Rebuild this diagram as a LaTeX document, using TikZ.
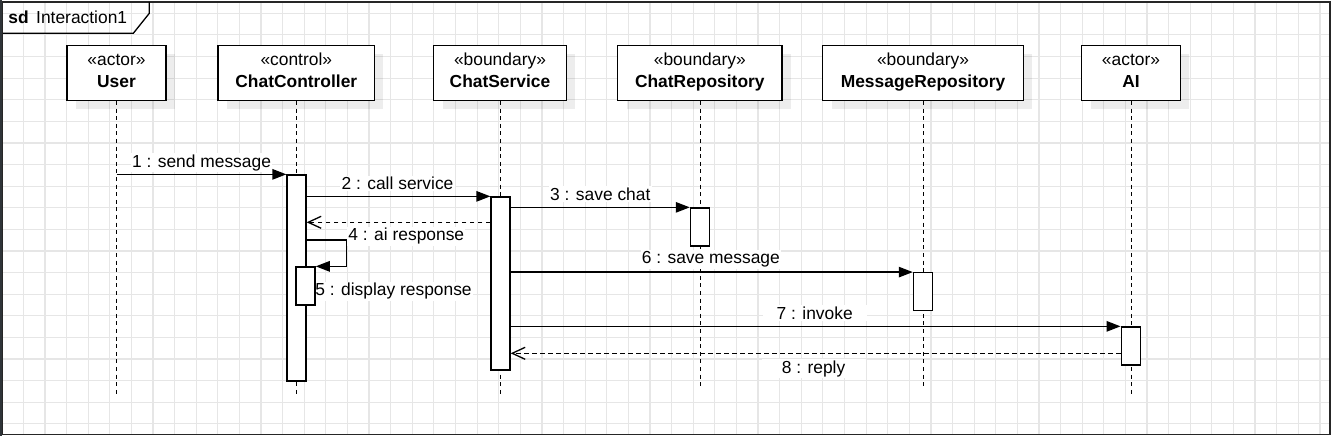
\documentclass[tikz,border=0pt]{standalone}
\usepackage{fontspec}
\setmainfont{Liberation Sans}
\usetikzlibrary{arrows.meta}
\definecolor{gridc}{HTML}{E6E6E6}
\definecolor{stripc}{HTML}{2F3438}
\begin{document}
\begin{tikzpicture}[x=1pt,y=-1pt,
  every node/.style={font=\fontsize{17.4}{20}\selectfont, inner sep=0pt, text=black},
  hdr/.style={rectangle, draw=black, line width=1.3pt, fill=white, minimum height=54.8pt},
  act/.style={rectangle, draw=black, line width=1.3pt, fill=white, minimum width=19pt},
  lifeline/.style={line width=1.4pt, dash pattern=on 4pt off 3.6pt},
  msg/.style={line width=1.3pt, -{Triangle[length=14pt,width=10.5pt]}},
  ret/.style={line width=1.3pt, dash pattern=on 4.4pt off 3.6pt, -{Straight Barb[length=13pt,width=12pt]}},
  lbl/.style={anchor=base, fill=white, inner xsep=1.2pt, inner ysep=1.5pt},
  stereo/.style={anchor=base},
  hname/.style={anchor=base, font=\fontsize{17.4}{20}\selectfont\bfseries},
  shadow/.style={fill=black, opacity=0.07}
]
\useasboundingbox (0,0) rectangle (1332,436);
\fill[white] (0,0) rectangle (1332,436);
% grid
\foreach \k in {0,...,60} \draw[gridc, line width=1.2pt] (23.3+21.61*\k,2.5) -- (23.3+21.61*\k,434);
\foreach \k in {0,...,19} \draw[gridc, line width=1.2pt] (2.5,13.3+21.6*\k) -- (1330,13.3+21.6*\k);
% frame
\draw[line width=1.5pt, black!85] (2.5,2) rectangle (1330.2,434.3);
\fill[stripc] (0,0) rectangle (2.4,436);
\draw[line width=1.3pt] (3,33.3) -- (133.3,33.3) -- (149.3,13.3) -- (149.3,2);
\node[anchor=base west, font=\fontsize{17.4}{20}\selectfont\bfseries] (sd) at (8.3,23.3) {sd};
\node[anchor=base west] (title) at (36,23.3) {Interaction1};

% shadows
\foreach \cx/\w in {116.5/99, 296.3/156.7, 500/132.4, 699.8/164.4, 923/201, 1131/99}
  \fill[shadow] (\cx-\w/2+9,45.5+9) rectangle (\cx+\w/2+8.5,100.3+8.5);

% header boxes
\node[hdr, minimum width=99pt] (user) at (116.5,72.9) {};
\node[hdr, minimum width=156.7pt] (ctrl) at (296.3,72.9) {};
\node[hdr, minimum width=132.4pt] (svc) at (500,72.9) {};
\node[hdr, minimum width=164.4pt] (crep) at (699.8,72.9) {};
\node[hdr, minimum width=201pt] (mrep) at (923,72.9) {};
\node[hdr, minimum width=99pt] (ai) at (1131,72.9) {};

\node[stereo] (userS) at (116.5,66) {«actor»};
\node[hname] (userN) at (116.5,87.3) {User};
\node[stereo] (ctrlS) at (296.3,66) {«control»};
\node[hname] (ctrlN) at (296.3,87.3) {ChatController};
\node[stereo] (svcS) at (500,66) {«boundary»};
\node[hname] (svcN) at (500,87.3) {ChatService};
\node[stereo] (crepS) at (699.8,66) {«boundary»};
\node[hname] (crepN) at (699.8,87.3) {ChatRepository};
\node[stereo] (mrepS) at (923,66) {«boundary»};
\node[hname] (mrepN) at (923,87.3) {MessageRepository};
\node[stereo] (aiS) at (1131,66) {«actor»};
\node[hname] (aiN) at (1131,87.3) {AI};

% lifeline ends
\coordinate (userE) at (116.5,397);
\coordinate (ctrlE) at (296.5,397);
\coordinate (svcE) at (500.5,397);
\coordinate (crepE) at (700.5,388);
\coordinate (mrepE) at (923.5,388);
\coordinate (aiE) at (1131.5,396);

\draw[lifeline] (user.south -| userE) -- (userE);
\draw[lifeline] (ctrl.south -| ctrlE) -- (ctrlE);
\draw[lifeline] (svc.south -| svcE) -- (svcE);
\draw[lifeline] (crep.south -| crepE) -- (crepE);
\draw[lifeline] (mrep.south -| mrepE) -- (mrepE);
\draw[lifeline] (ai.south -| aiE) -- (aiE);

% labels
\node[lbl] (l1) at (201.5,167) {1 : send message};
\node[lbl] (l2) at (397.5,189.7) {2 : call service};
\node[lbl] (l3) at (600.3,200.5) {3 : save chat};
\node[lbl] (l4) at (406.3,240.8) {4 : ai response};
\node[lbl] (l5) at (393.5,295.7) {5 : display response};
\node[lbl] (l6) at (710.8,263.7) {6 : save message};
\node[lbl, minimum width=104pt] (l7) at (814.7,319.2) {7 : invoke};
\node[lbl, minimum width=104pt] (l8) at (813.5,373) {8 : reply};

% activations
\node[act, minimum height=206pt] (actC) at (296.5,278) {};
\node[act, minimum height=38pt] (actC2) at (305.6,286) {};
\node[act, minimum height=173pt] (actS) at (500.5,283.5) {};
\node[act, minimum height=38pt] (actR) at (699.9,227) {};
\node[act, minimum height=37.5pt] (actM) at (922.9,291.5) {};
\node[act, minimum height=38pt] (actA) at (1130.7,346) {};

% helper levels
\coordinate (y4) at (0,222.3);
\coordinate (y5) at (346.7,240);
\coordinate (y8) at (0,353.3);

% messages
\draw[msg] (userE |- actC.north) -- (actC.north west);
\draw[msg] (actC.east |- actS.north) -- (actS.north west);
\draw[msg] (actS.east |- actR.north) -- (actR.north west);
\draw[ret] (actS.west |- y4) -- (actC.east |- y4);
\draw[msg] (actC.east |- y5) -- (y5) |- (actC2.north east);
\draw[msg] (actS.east |- actM.north) -- (actM.north west);
\draw[msg] (actS.east |- actA.north) -- (actA.north west);
\draw[ret] (actA.west |- y8) -- (actS.east |- y8);
\end{tikzpicture}
\end{document}
